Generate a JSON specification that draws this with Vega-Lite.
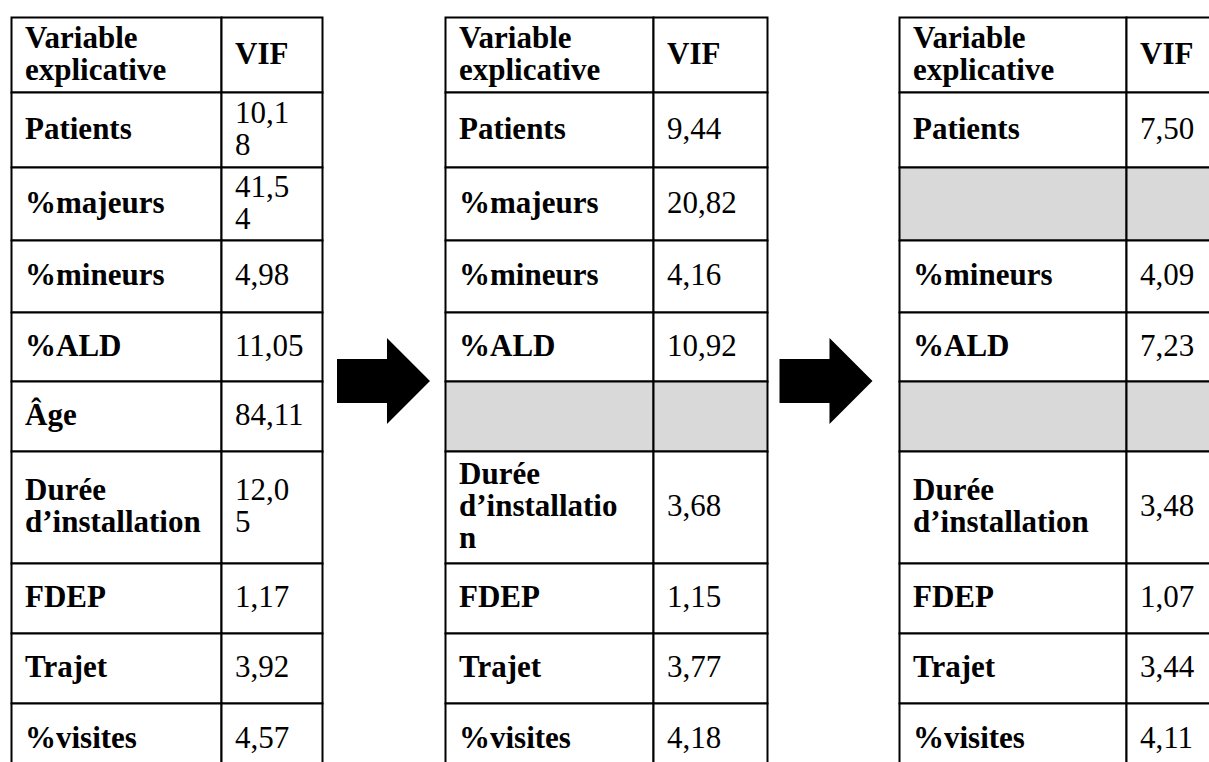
{
  "$schema": "https://vega.github.io/schema/vega-lite/v6.json",
  "width": 1209,
  "height": 762,
  "padding": 0,
  "autosize": {"type": "none"},
  "background": "white",
  "config": {"view": {"stroke": null}},
  "datasets": {
    "cellules": [
      {"col": 0, "row": 0, "text": "Variable\nexplicative", "kind": "entete", "retire": false},
      {"col": 1, "row": 0, "text": "VIF", "kind": "entete", "retire": false},
      {"col": 0, "row": 1, "text": "Patients", "kind": "variable", "retire": false},
      {"col": 1, "row": 1, "text": "10,1\n8", "kind": "valeur", "retire": false},
      {"col": 0, "row": 2, "text": "%majeurs", "kind": "variable", "retire": false},
      {"col": 1, "row": 2, "text": "41,5\n4", "kind": "valeur", "retire": false},
      {"col": 0, "row": 3, "text": "%mineurs", "kind": "variable", "retire": false},
      {"col": 1, "row": 3, "text": "4,98", "kind": "valeur", "retire": false},
      {"col": 0, "row": 4, "text": "%ALD", "kind": "variable", "retire": false},
      {"col": 1, "row": 4, "text": "11,05", "kind": "valeur", "retire": false},
      {"col": 0, "row": 5, "text": "Âge", "kind": "variable", "retire": false},
      {"col": 1, "row": 5, "text": "84,11", "kind": "valeur", "retire": false},
      {"col": 0, "row": 6, "text": "Durée\nd’installation", "kind": "variable", "retire": false},
      {"col": 1, "row": 6, "text": "12,0\n5", "kind": "valeur", "retire": false},
      {"col": 0, "row": 7, "text": "FDEP", "kind": "variable", "retire": false},
      {"col": 1, "row": 7, "text": "1,17", "kind": "valeur", "retire": false},
      {"col": 0, "row": 8, "text": "Trajet", "kind": "variable", "retire": false},
      {"col": 1, "row": 8, "text": "3,92", "kind": "valeur", "retire": false},
      {"col": 0, "row": 9, "text": "%visites", "kind": "variable", "retire": false},
      {"col": 1, "row": 9, "text": "4,57", "kind": "valeur", "retire": false},

      {"col": 3, "row": 0, "text": "Variable\nexplicative", "kind": "entete", "retire": false},
      {"col": 4, "row": 0, "text": "VIF", "kind": "entete", "retire": false},
      {"col": 3, "row": 1, "text": "Patients", "kind": "variable", "retire": false},
      {"col": 4, "row": 1, "text": "9,44", "kind": "valeur", "retire": false},
      {"col": 3, "row": 2, "text": "%majeurs", "kind": "variable", "retire": false},
      {"col": 4, "row": 2, "text": "20,82", "kind": "valeur", "retire": false},
      {"col": 3, "row": 3, "text": "%mineurs", "kind": "variable", "retire": false},
      {"col": 4, "row": 3, "text": "4,16", "kind": "valeur", "retire": false},
      {"col": 3, "row": 4, "text": "%ALD", "kind": "variable", "retire": false},
      {"col": 4, "row": 4, "text": "10,92", "kind": "valeur", "retire": false},
      {"col": 3, "row": 5, "text": "", "kind": "variable", "retire": true},
      {"col": 4, "row": 5, "text": "", "kind": "valeur", "retire": true},
      {"col": 3, "row": 6, "text": "Durée\nd’installatio\nn", "kind": "variable", "retire": false},
      {"col": 4, "row": 6, "text": "3,68", "kind": "valeur", "retire": false},
      {"col": 3, "row": 7, "text": "FDEP", "kind": "variable", "retire": false},
      {"col": 4, "row": 7, "text": "1,15", "kind": "valeur", "retire": false},
      {"col": 3, "row": 8, "text": "Trajet", "kind": "variable", "retire": false},
      {"col": 4, "row": 8, "text": "3,77", "kind": "valeur", "retire": false},
      {"col": 3, "row": 9, "text": "%visites", "kind": "variable", "retire": false},
      {"col": 4, "row": 9, "text": "4,18", "kind": "valeur", "retire": false},

      {"col": 6, "row": 0, "text": "Variable\nexplicative", "kind": "entete", "retire": false},
      {"col": 7, "row": 0, "text": "VIF", "kind": "entete", "retire": false},
      {"col": 6, "row": 1, "text": "Patients", "kind": "variable", "retire": false},
      {"col": 7, "row": 1, "text": "7,50", "kind": "valeur", "retire": false},
      {"col": 6, "row": 2, "text": "", "kind": "variable", "retire": true},
      {"col": 7, "row": 2, "text": "", "kind": "valeur", "retire": true},
      {"col": 6, "row": 3, "text": "%mineurs", "kind": "variable", "retire": false},
      {"col": 7, "row": 3, "text": "4,09", "kind": "valeur", "retire": false},
      {"col": 6, "row": 4, "text": "%ALD", "kind": "variable", "retire": false},
      {"col": 7, "row": 4, "text": "7,23", "kind": "valeur", "retire": false},
      {"col": 6, "row": 5, "text": "", "kind": "variable", "retire": true},
      {"col": 7, "row": 5, "text": "", "kind": "valeur", "retire": true},
      {"col": 6, "row": 6, "text": "Durée\nd’installation", "kind": "variable", "retire": false},
      {"col": 7, "row": 6, "text": "3,48", "kind": "valeur", "retire": false},
      {"col": 6, "row": 7, "text": "FDEP", "kind": "variable", "retire": false},
      {"col": 7, "row": 7, "text": "1,07", "kind": "valeur", "retire": false},
      {"col": 6, "row": 8, "text": "Trajet", "kind": "variable", "retire": false},
      {"col": 7, "row": 8, "text": "3,44", "kind": "valeur", "retire": false},
      {"col": 6, "row": 9, "text": "%visites", "kind": "variable", "retire": false},
      {"col": 7, "row": 9, "text": "4,11", "kind": "valeur", "retire": false}
    ],
    "fleches": [
      {"col": 2, "row": 5, "de": 1, "vers": 2},
      {"col": 5, "row": 5, "de": 2, "vers": 3}
    ]
  },
  "layer": [
    {
      "data": {"name": "cellules"},
      "mark": {"type": "rect", "stroke": "black", "strokeWidth": 2, "binSpacing": 0},
      "encoding": {
        "x": {"field": "col", "type": "quantitative", "bin": {"step": 1, "extent": [0, 8], "nice": false},
              "scale": {"domain": [0, 1, 2, 2.5, 3, 4, 5, 5.5, 6, 7, 8], "range": [11, 221, 322, 383.5, 445, 653, 767, 826, 899, 1126, 1240], "zero": false, "nice": false}, "axis": null},
        "y": {"field": "row", "type": "quantitative", "bin": {"step": 1, "extent": [0, 10], "nice": false},
              "scale": {"domain": [0, 1, 2, 3, 4, 5, 6, 7, 8, 9, 10], "range": [17, 92, 167, 240, 312, 381, 451, 563, 633, 703, 775], "zero": false, "nice": false}, "axis": null},
        "fill": {"condition": {"test": "datum.retire", "value": "#d9d9d9"}, "value": "white"}
      }
    },
    {
      "data": {"name": "cellules"},
      "encoding": {
        "x": {"field": "col", "type": "quantitative", "bin": {"step": 1, "extent": [0, 8], "nice": false}, "bandPosition": 0, "axis": null},
        "y": {"field": "row", "type": "quantitative", "bin": {"step": 1, "extent": [0, 10], "nice": false}, "axis": null},
        "text": {"field": "text"}
      },
      "layer": [
        {
          "transform": [{"filter": "datum.kind !== 'valeur' && length(split(datum.text, '\\n')) === 1"}],
          "mark": {"type": "text", "align": "left", "baseline": "middle", "dx": 14, "dy": 0, "font": "serif", "fontWeight": "bold", "fontSize": 31, "lineHeight": 32, "lineBreak": "\n", "color": "black"}
        },
        {
          "transform": [{"filter": "datum.kind !== 'valeur' && length(split(datum.text, '\\n')) === 2"}],
          "mark": {"type": "text", "align": "left", "baseline": "middle", "dx": 14, "dy": -16, "font": "serif", "fontWeight": "bold", "fontSize": 31, "lineHeight": 32, "lineBreak": "\n", "color": "black"}
        },
        {
          "transform": [{"filter": "datum.kind !== 'valeur' && length(split(datum.text, '\\n')) === 3"}],
          "mark": {"type": "text", "align": "left", "baseline": "middle", "dx": 14, "dy": -32, "font": "serif", "fontWeight": "bold", "fontSize": 31, "lineHeight": 32, "lineBreak": "\n", "color": "black"}
        },
        {
          "transform": [{"filter": "datum.kind === 'valeur' && length(split(datum.text, '\\n')) === 1"}],
          "mark": {"type": "text", "align": "left", "baseline": "middle", "dx": 14, "dy": 0, "font": "serif", "fontWeight": "normal", "fontSize": 31, "lineHeight": 32, "lineBreak": "\n", "color": "black"}
        },
        {
          "transform": [{"filter": "datum.kind === 'valeur' && length(split(datum.text, '\\n')) === 2"}],
          "mark": {"type": "text", "align": "left", "baseline": "middle", "dx": 14, "dy": -16, "font": "serif", "fontWeight": "normal", "fontSize": 31, "lineHeight": 32, "lineBreak": "\n", "color": "black"}
        }
      ]
    },
    {
      "data": {"name": "fleches"},
      "mark": {"type": "point", "shape": "M-1,-0.473L0.075,-0.473L0.075,-0.925L1,0L0.075,0.925L0.075,0.473L-1,0.473Z", "size": 8649, "filled": true, "fill": "black", "strokeWidth": 0, "opacity": 1},
      "encoding": {
        "x": {"field": "col", "type": "quantitative", "bin": {"step": 1, "extent": [0, 8], "nice": false}, "axis": null},
        "y": {"field": "row", "type": "quantitative", "bin": {"step": 1, "extent": [0, 10], "nice": false}, "bandPosition": 0, "axis": null}
      }
    }
  ]
}
